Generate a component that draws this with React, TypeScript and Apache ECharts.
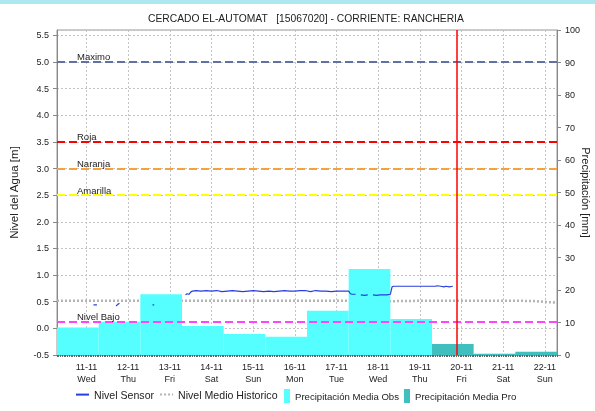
import React, { useEffect, useRef } from 'react';
import * as echarts from 'echarts';

const TITLE = 'CERCADO EL-AUTOMAT   [15067020] - CORRIENTE: RANCHERIA';
const X_START = '2020-11-10 07:00';
const X_END = '2020-11-22 07:00';
const NOW_LINE = '2020-11-19 21:00';

const DAY_TICKS = [
  '2020-11-11 00:00', '2020-11-12 00:00', '2020-11-13 00:00', '2020-11-14 00:00',
  '2020-11-15 00:00', '2020-11-16 00:00', '2020-11-17 00:00', '2020-11-18 00:00',
  '2020-11-19 00:00', '2020-11-20 00:00', '2020-11-21 00:00', '2020-11-22 00:00',
];
const WEEKDAYS = ['Sun', 'Mon', 'Tue', 'Wed', 'Thu', 'Fri', 'Sat'];

const OBS_DAYS = [
  '2020-11-10 07:00', '2020-11-11 07:00', '2020-11-12 07:00', '2020-11-13 07:00',
  '2020-11-14 07:00', '2020-11-15 07:00', '2020-11-16 07:00', '2020-11-17 07:00',
  '2020-11-18 07:00',
];
const OBS_VALUES = [8.5, 10.2, 18.7, 8.9, 6.5, 5.6, 13.6, 26.5, 11.1];

const PRO_DAYS = ['2020-11-19 07:00', '2020-11-20 07:00', '2020-11-21 07:00'];
const PRO_VALUES = [3.4, 0.4, 1.0];

const SENSOR_TIMES = [
  '2020-11-11 04:00', '2020-11-11 06:00', '2020-11-11 10:00',
  '2020-11-11 17:00', '2020-11-11 18:00', '2020-11-11 19:00', '2020-11-12 02:00',
  '2020-11-12 14:00', '2020-11-12 15:00', '2020-11-12 20:00',
  '2020-11-13 09:00', '2020-11-13 10:00', '2020-11-13 11:00', '2020-11-13 12:00',
  '2020-11-13 13:00', '2020-11-13 15:00', '2020-11-13 18:00', '2020-11-13 21:00',
  '2020-11-14 00:00', '2020-11-14 03:00', '2020-11-14 06:00', '2020-11-14 09:00',
  '2020-11-14 12:00', '2020-11-14 15:00', '2020-11-14 18:00', '2020-11-14 21:00',
  '2020-11-15 00:00', '2020-11-15 03:00', '2020-11-15 06:00', '2020-11-15 09:00',
  '2020-11-15 12:00', '2020-11-15 15:00', '2020-11-15 18:00', '2020-11-15 21:00',
  '2020-11-16 00:00', '2020-11-16 03:00', '2020-11-16 06:00', '2020-11-16 09:00',
  '2020-11-16 12:00', '2020-11-16 15:00', '2020-11-16 18:00', '2020-11-16 21:00',
  '2020-11-17 00:00', '2020-11-17 03:00', '2020-11-17 06:00', '2020-11-17 07:00',
  '2020-11-17 08:00', '2020-11-17 09:00', '2020-11-17 11:00', '2020-11-17 13:00',
  '2020-11-17 14:00', '2020-11-17 16:00', '2020-11-17 18:00', '2020-11-17 20:00',
  '2020-11-17 21:00', '2020-11-17 23:00', '2020-11-18 01:00', '2020-11-18 03:00',
  '2020-11-18 05:00', '2020-11-18 07:00', '2020-11-18 08:00', '2020-11-18 09:00',
  '2020-11-18 12:00', '2020-11-18 15:00', '2020-11-18 18:00', '2020-11-18 21:00',
  '2020-11-19 00:00', '2020-11-19 03:00', '2020-11-19 06:00', '2020-11-19 09:00',
  '2020-11-19 10:00', '2020-11-19 12:00', '2020-11-19 14:00', '2020-11-19 15:00',
  '2020-11-19 17:00', '2020-11-19 19:00',
];
const SENSOR_VALUES: (number | null)[] = [
  0.44, 0.44, null,
  0.42, 0.45, 0.47, null,
  0.44, 0.44, null,
  0.63, 0.65, 0.64, 0.68,
  0.70, 0.71, 0.70, 0.71,
  0.70, 0.71, 0.69, 0.70,
  0.71, 0.70, 0.69, 0.70,
  0.71, 0.70, 0.69, 0.70,
  0.69, 0.70, 0.71, 0.70,
  0.70, 0.71, 0.71, 0.69,
  0.71, 0.70, 0.70, 0.69,
  0.70, 0.70, 0.70, 0.70,
  0.65, 0.64, 0.64, null,
  0.63, 0.62, 0.63, null,
  0.63, 0.62, 0.63, 0.63,
  0.63, 0.64, 0.78, 0.79,
  0.79, 0.79, 0.79, 0.79,
  0.79, 0.79, 0.79, 0.79,
  0.80, 0.79, 0.78, 0.79,
  0.78, 0.79,
];

const HIST_TIMES = [
  '2020-11-10 07:00', '2020-11-11 07:00', '2020-11-12 07:00', '2020-11-13 07:00',
  '2020-11-14 07:00', '2020-11-15 07:00', '2020-11-16 07:00', '2020-11-17 07:00',
  '2020-11-18 07:00', '2020-11-19 07:00', '2020-11-20 07:00', '2020-11-21 07:00',
  '2020-11-21 19:00', '2020-11-22 07:00',
];
const HIST_VALUES = [0.52, 0.52, 0.52, 0.52, 0.52, 0.52, 0.52, 0.52, 0.51, 0.52, 0.52, 0.52, 0.51, 0.48];

const THRESHOLD_NAMES = ['Maximo', 'Roja', 'Naranja', 'Amarilla', 'Nivel Bajo'];
const THRESHOLD_VALUES = [5.0, 3.5, 3.0, 2.5, 0.12];
const THRESHOLD_COLORS = ['#6171a3', '#ff0000', '#f5a23c', '#ffff00', '#ff44ff'];

const LEFT_TICK_MIN = -0.5;
const LEFT_TICK_MAX = 5.6;
const RIGHT_TICK_MIN = 0;
const RIGHT_TICK_MAX = 100;

const ms = (s: string) => {
  const [d, t] = s.split(' ');
  const [y, m, dd] = d.split('-').map(Number);
  const [h, mi] = t.split(':').map(Number);
  return Date.UTC(y, m - 1, dd, h, mi);
};
const DAY = 86400000;

const OBS_COLOR = '#55ffff';
const PRO_COLOR = '#40bfbf';

function rectRender(color: string) {
  return (params: any, api: any) => {
    const s = api.coord([api.value(0), 0]);
    const e = api.coord([api.value(1), api.value(2)]);
    return {
      type: 'rect',
      shape: { x: s[0], y: e[1], width: e[0] - s[0], height: s[1] - e[1] },
      style: { fill: color },
    };
  };
}

export default function App() {
  const ref = useRef<HTMLDivElement>(null);
  useEffect(() => {
    if (!ref.current) return;
    const chart = echarts.init(ref.current, undefined, { renderer: 'svg' });
    const xMin = ms(X_START);
    const xMax = ms(X_END);
    const dayTicks = DAY_TICKS.map(ms);
    const font = 'Liberation Sans, Arial, sans-serif';

    const option: any = {
      animation: false,
      textStyle: { fontFamily: font },
      title: {
        text: TITLE,
        left: 148,
        top: 13,
        padding: 0,
        textStyle: { fontSize: 10.3, fontWeight: 'normal', color: '#222', fontFamily: font },
      },
      graphic: [
        { type: 'rect', left: 0, top: 0, shape: { width: 595, height: 4 }, style: { fill: '#aee7f0' } },
      ],
      legend: [
        {
          left: 75, top: 389, padding: 0, itemWidth: 13, itemHeight: 14, itemGap: 5,
          data: ['Nivel Sensor', 'Nivel Medio Historico'],
          itemStyle: { opacity: 0 },
          textStyle: { fontSize: 10.6, color: '#222', fontFamily: font },
        },
        {
          left: 284, top: 389, padding: 0, itemWidth: 6, itemHeight: 14, itemGap: 5,
          data: [
            { name: 'Precipitación Media Obs', icon: 'rect' },
            { name: 'Precipitación Media Pro', icon: 'rect' },
          ],
          textStyle: { fontSize: 9.6, color: '#222', fontFamily: font },
        },
      ],
      grid: {
        left: 57, right: 38, top: 30, bottom: 56,
        outerBoundsMode: 'none',
        containLabel: false,
        show: true, borderColor: '#999', borderWidth: 1,
      },
      xAxis: [
        {
          type: 'value', min: xMin, max: xMax, position: 'bottom',
          axisLine: { show: true, onZero: false, lineStyle: { color: '#999' } },
          axisTick: { show: false, customValues: dayTicks },
          axisLabel: {
            customValues: dayTicks,
            fontSize: 9, color: '#222', lineHeight: 12, margin: 6,
            formatter: (v: number) => {
              const d = new Date(v);
              const dd = String(d.getUTCDate()).padStart(2, '0');
              const mm = String(d.getUTCMonth() + 1).padStart(2, '0');
              return `${dd}-${mm}\n${WEEKDAYS[d.getUTCDay()]}`;
            },
          },
          splitLine: { show: true, lineStyle: { color: '#c4c4c4', type: [2, 2], width: 1 } },
        },
        {
          type: 'value', min: xMin, max: xMax, position: 'bottom', interval: 3600000,
          axisLine: { show: false, onZero: false },
          axisTick: { show: true, length: 2, lineStyle: { color: '#666' } },
          axisLabel: { show: false },
          splitLine: { show: false },
        },
      ],
      yAxis: [
        {
          type: 'value', min: LEFT_TICK_MIN, max: LEFT_TICK_MAX, interval: 0.5, position: 'left',
          name: 'Nivel del Agua [m]', nameLocation: 'middle', nameGap: 37, nameMoveOverlap: false,
          nameTextStyle: { fontSize: 11.5, color: '#222', fontFamily: font },
          axisLine: { show: true, onZero: false, lineStyle: { color: '#888' } },
          axisTick: { show: true, length: 4, lineStyle: { color: '#888' } },
          axisLabel: { fontSize: 9, color: '#222', margin: 8, showMaxLabel: false, formatter: (v: number) => v.toFixed(1) },
          splitLine: { show: true, lineStyle: { color: '#c4c4c4', type: [2, 2], width: 1 } },
        },
        {
          type: 'value', min: RIGHT_TICK_MIN, max: RIGHT_TICK_MAX, interval: 10, position: 'right',
          name: 'Precipitación [mm]', nameLocation: 'middle', nameGap: 23, nameRotate: -90, nameMoveOverlap: false,
          nameTextStyle: { fontSize: 11, color: '#222', fontFamily: font },
          axisLine: { show: true, onZero: false, lineStyle: { color: '#888' } },
          axisTick: { show: true, length: 4, lineStyle: { color: '#888' } },
          axisLabel: { fontSize: 9, color: '#222', margin: 8 },
          splitLine: { show: false },
        },
      ],
      series: [
        {
          name: 'Nivel Medio Historico', type: 'line', xAxisIndex: 0, yAxisIndex: 0,
          symbol: 'none',
          data: HIST_TIMES.map((t, i) => [ms(t), HIST_VALUES[i]]),
          lineStyle: { color: '#b4b4b4', width: 2.5, type: [2, 2] },
          itemStyle: { color: '#b4b4b4' },
          z: 2,
        },
        {
          name: 'Precipitación Media Obs', type: 'custom', xAxisIndex: 0, yAxisIndex: 1,
          renderItem: rectRender(OBS_COLOR),
          encode: { x: [0, 1], y: 2 },
          itemStyle: { color: OBS_COLOR },
          data: OBS_DAYS.map((d, i) => [ms(d), ms(d) + DAY, OBS_VALUES[i]]),
          z: 3,
        },
        {
          name: 'Precipitación Media Pro', type: 'custom', xAxisIndex: 0, yAxisIndex: 1,
          renderItem: rectRender(PRO_COLOR),
          encode: { x: [0, 1], y: 2 },
          itemStyle: { color: PRO_COLOR },
          data: PRO_DAYS.map((d, i) => [ms(d), ms(d) + DAY, PRO_VALUES[i]]),
          z: 3,
        },
        {
          name: 'Nivel Sensor', type: 'line', xAxisIndex: 0, yAxisIndex: 0,
          symbol: 'none', connectNulls: false,
          data: SENSOR_TIMES.map((t, i) => [ms(t), SENSOR_VALUES[i]]),
          lineStyle: { color: '#2a3de0', width: 1.2 },
          itemStyle: { color: '#1a2ee0' },
          z: 4,
          markLine: {
            symbol: 'none', silent: true, animation: false, z: 5,
            data: [
              ...THRESHOLD_VALUES.map((v, i) => ({
                yAxis: v, name: THRESHOLD_NAMES[i],
                lineStyle: { color: THRESHOLD_COLORS[i], type: [8, 4], width: 2 },
                label: {
                  show: true, formatter: '{b}', position: 'insideStartTop',
                  color: '#222', fontSize: 9.5, distance: [20, 0], fontFamily: font,
                },
              })),
              {
                xAxis: ms(NOW_LINE),
                lineStyle: { color: '#ff0000', type: 'solid', width: 1.5 },
                label: { show: false },
              },
            ],
          },
        },
      ],
    };
    chart.setOption(option);
    return () => chart.dispose();
  }, []);
  return <div ref={ref} style={{ position: 'fixed', left: 0, top: 0, width: 595, height: 411 }} />;
}
